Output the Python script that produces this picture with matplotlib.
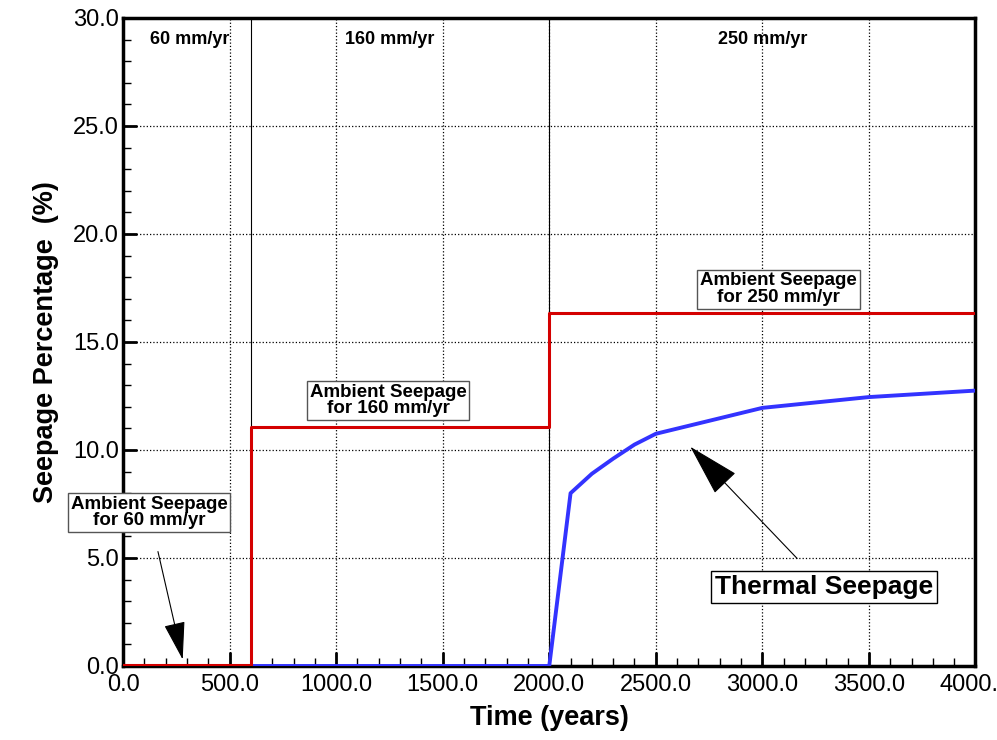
import matplotlib
matplotlib.use("Agg")
from matplotlib import pyplot as plt
from matplotlib.ticker import MultipleLocator

plt.rcParams['font.family'] = ['Liberation Sans', 'DejaVu Sans']

# ambient seepage (step) and thermal seepage
amb_t = [0, 600, 600, 2000, 2000, 4000]
amb_s = [0.05, 0.05, 11.05, 11.05, 16.35, 16.35]

th_t = [600, 2000, 2100, 2200, 2300, 2400, 2500, 3000, 3500, 4000]
th_s = [0.0, 0.0, 8.0, 8.9, 9.6, 10.25, 10.75, 11.95, 12.45, 12.75]

regions = ["60 mm/yr", "160 mm/yr", "250 mm/yr"]
region_x = [315, 1250, 3000]
region_bounds = [600, 2000]

fig = plt.figure(figsize=(9.97, 7.4), dpi=100)
ax = fig.add_axes([0.1234, 0.1, 0.855, 0.8757])

ax.plot(th_t, th_s, color='#3333ff', lw=2.8, zorder=3)
ax.plot(amb_t, amb_s, color='#d40000', lw=2.2, zorder=4)
for b in region_bounds:
    ax.axvline(b, color='black', lw=0.8, zorder=2)

ax.set_xlim(0, 4000)
ax.set_ylim(0, 30)
ax.xaxis.set_major_locator(MultipleLocator(500))
ax.xaxis.set_minor_locator(MultipleLocator(100))
ax.yaxis.set_major_locator(MultipleLocator(5))
ax.yaxis.set_minor_locator(MultipleLocator(1))
ax.xaxis.set_major_formatter(matplotlib.ticker.FormatStrFormatter('%.1f'))
ax.yaxis.set_major_formatter(matplotlib.ticker.FormatStrFormatter('%.1f'))
ax.tick_params(which='major', direction='in', length=10, width=2, labelsize=17)
ax.tick_params(axis='x', which='major', pad=6)
ax.tick_params(axis='y', which='major', pad=3)
ax.tick_params(which='minor', direction='in', length=6, width=1)
ax.grid(True, which='major', linestyle=':', color='black', lw=0.9)
for s in ax.spines.values():
    s.set_linewidth(2.5)

ax.set_xlabel("Time (years)", fontsize=19.5, fontweight='bold', labelpad=6)
ax.set_ylabel("Seepage Percentage  (%)", fontsize=19.5, fontweight='bold', labelpad=10)

for name, x in zip(regions, region_x):
    ax.text(x, 29.0, name, ha='center', va='center', fontsize=13, fontweight='bold')

box = dict(boxstyle='square,pad=0.15', fc='white', ec='#555555', lw=1)
ax.annotate("Ambient Seepage\nfor 60 mm/yr", xy=(280, 0.3), xytext=(122, 7.1),
            ha='center', va='center', fontsize=13.5, fontweight='bold', linespacing=0.95,
            bbox=box, zorder=6,
            arrowprops=dict(arrowstyle='-|>,head_length=1.8,head_width=0.5',
                            color='black', lw=0.8, shrinkA=14, shrinkB=0))
ax.text(1244, 12.3, "Ambient Seepage\nfor 160 mm/yr", ha='center', va='center',
        fontsize=13.5, fontweight='bold', linespacing=0.95, bbox=box, zorder=6)
ax.text(3075, 17.45, "Ambient Seepage\nfor 250 mm/yr", ha='center', va='center',
        fontsize=13.5, fontweight='bold', linespacing=0.95, bbox=box, zorder=6)
ax.annotate("Thermal Seepage", xy=(2662, 10.15), xytext=(3291, 3.66),
            ha='center', va='center', fontsize=19, fontweight='bold',
            bbox=dict(boxstyle='square,pad=0.15', fc='white', ec='black', lw=1), zorder=6,
            arrowprops=dict(arrowstyle='-|>,head_length=1.8,head_width=0.5',
                            color='black', lw=0.8, shrinkA=12, shrinkB=0))

fig.savefig("out.png", dpi=100)
